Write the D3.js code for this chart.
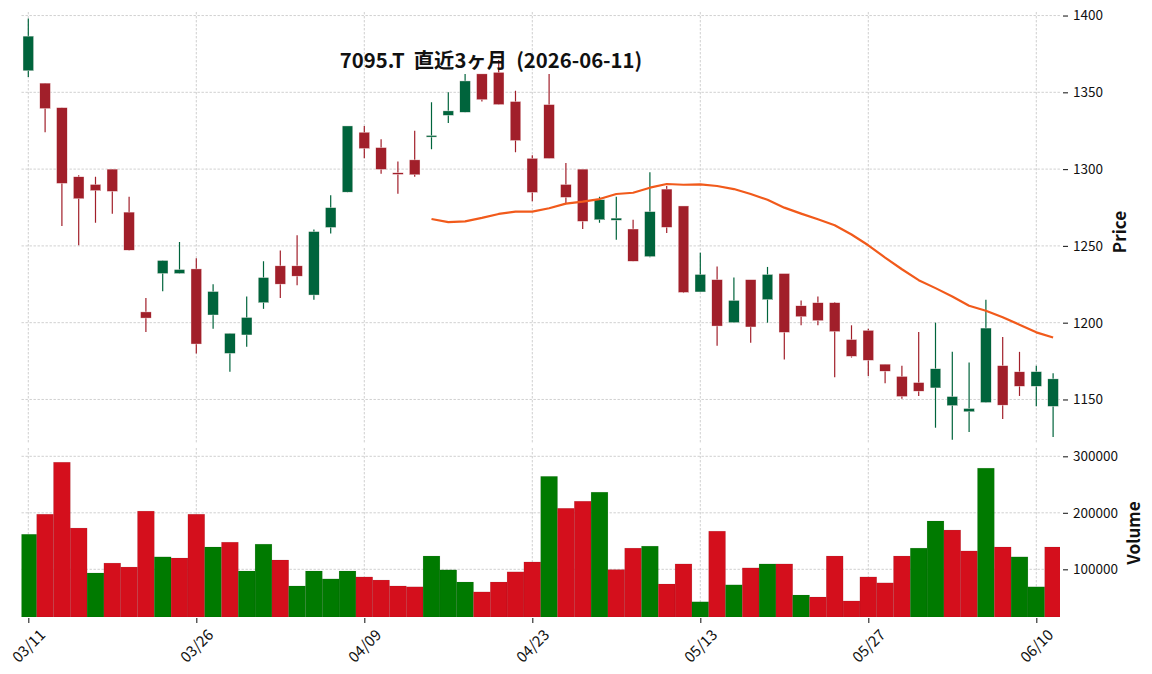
<!DOCTYPE html>
<html>
<head>
<meta charset="utf-8">
<script src="https://cdn.jsdelivr.net/npm/d3@7"></script>
<style>
  html, body { margin: 0; padding: 0; background: #ffffff; }
  svg { display: block; font-family: "Noto Sans CJK JP", "Noto Sans", sans-serif; }
</style>
</head>
<body>
<svg id="chart" width="1152" height="674"></svg>
<script>
// ---------------- data ----------------
const dates = ["03/11","03/12","03/13","03/16","03/17","03/18","03/19","03/23","03/24","03/25",
  "03/26","03/27","03/30","03/31","04/01","04/02","04/03","04/06","04/07","04/08",
  "04/09","04/10","04/13","04/14","04/15","04/16","04/17","04/20","04/21","04/22",
  "04/23","04/24","04/27","04/28","04/30","05/01","05/07","05/08","05/11","05/12",
  "05/13","05/14","05/15","05/18","05/19","05/20","05/21","05/22","05/25","05/26",
  "05/27","05/28","05/29","06/01","06/02","06/03","06/04","06/05","06/08","06/09",
  "06/10","06/11"];

const openP = [1364,1356,1340,1295,1290,1300,1272,1207,1232,1232,
  1235,1205,1180,1192,1213,1237,1237,1218,1262,1285,
  1324,1314,1297.6,1306,1321.5,1335,1337,1362,1363,1344,
  1307,1342,1290,1300,1267,1266.7,1261,1243,1287,1276,
  1220,1228,1200,1228,1215,1232,1211,1213,1213,1189,
  1195,1173,1165,1161,1157.5,1146,1142,1148,1172,1168,
  1158.6,1145.5];
const highP = [1398,1356,1340,1296,1295,1300,1282,1216,1240.5,1252.6,
  1242,1225,1193,1217,1240,1247,1257,1260.6,1283,1328,
  1328,1319.5,1305,1325,1343.5,1350,1362,1362,1371,1351,
  1309,1362,1304,1299.6,1282,1282,1267,1298,1289,1275.5,
  1245.5,1236.6,1229.4,1227.5,1236.3,1231.6,1214.5,1217,1213.4,1198.3,
  1196,1172.7,1172,1194,1200,1181,1174,1215,1190.6,1181,
  1172,1167];
const lowP = [1360,1324,1263,1250.4,1265,1271,1247,1194,1220.5,1232,
  1180,1196,1168,1184.4,1209,1216,1224.4,1215,1258,1285,
  1307,1297,1284,1295,1313,1330,1337,1344,1342,1311,
  1279,1307,1278,1261,1265,1254,1240,1242.6,1258.4,1219.3,
  1220,1185,1200,1187,1200,1176,1198.3,1198.3,1164.5,1177.3,
  1165.3,1160.6,1150.4,1152.3,1131.6,1123.8,1128.8,1148,1137.2,1152.3,
  1145.5,1125.6];
const closeP = [1386.6,1339.4,1290.7,1280.7,1286,1285.5,1247.2,1203,1240.5,1234.6,
  1186.1,1220.3,1193.1,1203.4,1229.4,1225.1,1230.3,1259.3,1274.9,1328.1,
  1313.4,1299.8,1297.2,1296.3,1321.9,1337.9,1357.4,1345.2,1342,1318.6,
  1284.8,1306.9,1281.6,1266,1280.1,1268.1,1240,1272.3,1262.1,1219.7,
  1231.4,1197.8,1214.5,1197.2,1231.4,1193.7,1203.9,1201.3,1194.2,1178.1,
  1175.5,1168.4,1151.9,1155.4,1170,1151.9,1144.1,1196.5,1146.3,1158.6,
  1168.1,1163.4];
const volume = [162000,197500,289500,173000,93500,111000,104000,203000,122000,120000,
  197500,139500,148000,97000,144500,116500,70500,97000,83000,97000,
  86500,81000,70500,69000,123500,99000,77500,60000,77500,95500,
  113000,264500,208000,220500,236500,99500,137500,141000,74000,109500,
  42500,167500,72500,102500,109500,109500,54500,51000,123500,44000,
  86500,76000,123500,137500,185500,169500,132500,279000,139500,122000,
  69000,139500];
// 25-day moving average line (null where not drawn)
const ma25 = [null,null,null,null,null,null,null,null,null,null,
  null,null,null,null,null,null,null,null,null,null,
  null,null,null,null,1267.5,1265.5,1266.0,1268.2,1270.8,1272.3,
  1272.3,1274.5,1277.5,1278.8,1280.5,1283.8,1284.6,1287.9,1290.3,1289.8,
  1290.0,1289.0,1287.0,1283.8,1280.0,1274.9,1271.0,1267.3,1263.4,1257.4,
  1250.4,1242.4,1234.8,1227.7,1222.5,1217.1,1211.0,1207.8,1203.5,1198.7,
  1193.7,1190.3];
const xTickIdx = [0,10,20,30,40,50,60];
const priceTicks = [1150,1200,1250,1300,1350,1400];
const volTicks = [100000,200000,300000];
const titleText = "7095.T  直近3ヶ月  (2026-06-11)";

// ---------------- layout ----------------
const svg = d3.select("#chart");
const plotL = 21.5, plotR = 1060;
const pTop = 12, pBot = 444, vTop = 448, vBot = 617;
const N = dates.length;

const x = d3.scaleLinear().domain([0, N - 1]).range([28.3, 28.3 + (N - 1) * 16.8]);
const step = x(1) - x(0);
const y = d3.scaleLinear().domain([1121, 1402.3]).range([pBot, pTop]);
const yv = d3.scaleLinear().domain([15600, 314700]).range([vBot, vTop]);

const upC = "#00643c", downC = "#a11f2a";
const vUp = "#007a00", vDown = "#d40f1c";
const maC = "#f15a1b";
const gridC = "#c4c4c4";

svg.append("rect").attr("width", 1152).attr("height", 674).attr("fill", "#fff");

const defs = svg.append("defs");
defs.append("clipPath").attr("id", "clipP").append("rect")
  .attr("x", plotL).attr("y", pTop).attr("width", plotR - plotL).attr("height", pBot - pTop);
defs.append("clipPath").attr("id", "clipV").append("rect")
  .attr("x", plotL).attr("y", vTop).attr("width", plotR - plotL).attr("height", vBot - vTop);

// grid
const grid = svg.append("g").attr("stroke", gridC).attr("stroke-width", 0.8).attr("stroke-dasharray", "2.4,1.6");
xTickIdx.forEach(i => {
  grid.append("line").attr("x1", x(i)).attr("x2", x(i)).attr("y1", pTop).attr("y2", pBot);
  grid.append("line").attr("x1", x(i)).attr("x2", x(i)).attr("y1", vTop).attr("y2", vBot);
});
priceTicks.forEach(t => grid.append("line").attr("x1", plotL).attr("x2", plotR).attr("y1", y(t)).attr("y2", y(t)));
volTicks.forEach(t => grid.append("line").attr("x1", plotL).attr("x2", plotR).attr("y1", yv(t)).attr("y2", yv(t)));

// volume bars
const idx = d3.range(N);
const volUp = i => i === 0 ? true : closeP[i] >= closeP[i - 1];
svg.append("g").attr("clip-path", "url(#clipV)")
  .selectAll("rect").data(idx).join("rect")
  .attr("x", i => x(i) - step / 2)
  .attr("width", step)
  .attr("y", i => yv(volume[i]))
  .attr("height", i => vBot - yv(volume[i]))
  .attr("fill", i => volUp(i) ? vUp : vDown)
  .attr("stroke", "rgba(0,0,0,0.12)")
  .attr("stroke-width", 0.6);

// candles
const cg = svg.append("g").attr("clip-path", "url(#clipP)");
const bw = 10.6;
cg.selectAll("line.wick").data(idx).join("line").attr("class", "wick")
  .attr("x1", i => x(i)).attr("x2", i => x(i))
  .attr("y1", i => y(highP[i])).attr("y2", i => y(lowP[i]))
  .attr("stroke", i => closeP[i] >= openP[i] ? upC : downC)
  .attr("stroke-width", 1.2);
cg.selectAll("rect.body").data(idx).join("rect").attr("class", "body")
  .attr("x", i => x(i) - bw / 2)
  .attr("width", bw)
  .attr("y", i => y(Math.max(openP[i], closeP[i])))
  .attr("height", i => Math.max(1.6, Math.abs(y(openP[i]) - y(closeP[i]))))
  .attr("fill", i => closeP[i] >= openP[i] ? upC : downC)
  .attr("stroke", "#fbeeee").attr("stroke-width", 0.4);

// moving average
const line = d3.line().defined(i => ma25[i] != null).x(i => x(i)).y(i => y(ma25[i]));
cg.append("path").datum(idx).attr("d", line)
  .attr("fill", "none").attr("stroke", maC).attr("stroke-width", 2.2)
  .attr("stroke-linejoin", "round");

// right axes
const axX = 1063;
const yAxis = svg.append("g").attr("transform", `translate(${axX},0)`)
  .call(d3.axisRight(y).tickValues(priceTicks).tickFormat(d3.format("d")).tickSize(5).tickPadding(5));
const vAxis = svg.append("g").attr("transform", `translate(${axX},0)`)
  .call(d3.axisRight(yv).tickValues(volTicks).tickFormat(d3.format("d")).tickSize(5).tickPadding(5));
[yAxis, vAxis].forEach(a => {
  a.select(".domain").remove();
  a.selectAll("text").attr("font-size", 13.5).attr("fill", "#111").attr("font-family", "Noto Sans CJK JP");
  a.selectAll("line").attr("stroke", "#222").attr("stroke-width", 1.1);
});

// bottom axis
const xAxis = svg.append("g").attr("transform", `translate(0,${vBot + 1})`)
  .call(d3.axisBottom(x).tickValues(xTickIdx).tickFormat(i => dates[i]).tickSize(5));
xAxis.select(".domain").remove();
xAxis.selectAll("line").attr("stroke", "#222").attr("stroke-width", 1.1);
xAxis.selectAll("text")
  .attr("font-size", 15).attr("fill", "#111").attr("font-family", "Noto Sans CJK JP")
  .attr("text-anchor", "middle").attr("y", 0).attr("dy", "0.35em")
  .attr("transform", "translate(0,28) rotate(-45)");

// axis labels
svg.append("text").attr("transform", "translate(1118,232) rotate(-90)")
  .attr("text-anchor", "middle").attr("dominant-baseline", "central")
  .attr("font-size", 17).attr("font-weight", "bold").attr("fill", "#111").text("Price");
svg.append("text").attr("transform", "translate(1132,533) rotate(-90)")
  .attr("text-anchor", "middle").attr("dominant-baseline", "central")
  .attr("font-size", 17).attr("font-weight", "bold").attr("fill", "#111").text("Volume");

// title
svg.append("text").attr("x", 491).attr("y", 68).attr("text-anchor", "middle")
  .attr("font-size", 20.3).attr("font-weight", "bold").attr("fill", "#111")
  .style("white-space", "pre").text(titleText);
</script>
</body>
</html>
